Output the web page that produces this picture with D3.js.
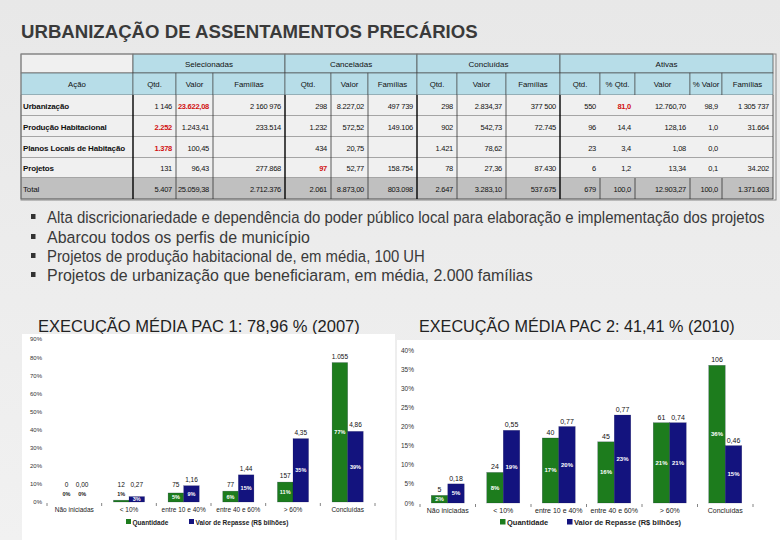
<!DOCTYPE html>
<html><head><meta charset="utf-8">
<script src="https://cdn.jsdelivr.net/npm/d3@7"></script>
<style>body{margin:0;background:#ebebeb;} svg{display:block}</style>
</head><body><svg id="c" width="780" height="540"></svg>
<script>
// ---------- DATA ----------
const title = "URBANIZAÇÃO DE ASSENTAMENTOS PRECÁRIOS";
const bullets = [
  "Alta discricionariedade e dependência do poder público local para elaboração e implementação dos projetos",
  "Abarcou todos os perfis de município",
  "Projetos de produção habitacional de, em média, 100 UH",
  "Projetos de urbanização que beneficiaram, em média, 2.000 famílias"
];
const groupHeaders = ["Selecionadas", "Canceladas", "Concluídas", "Ativas"];
const colHeaders = ["Ação","Qtd.","Valor","Famílias","Qtd.","Valor","Famílias","Qtd.","Valor","Famílias","Qtd.","% Qtd.","Valor","% Valor","Famílias"];
const rowLabels = ["Urbanização","Produção Habitacional","Planos Locais de Habitação","Projetos","Total"];
const rowUrbanizacao = ["1 146","23.622,08","2 160 976","298","8.227,02","497 739","298","2.834,37","377 500","550","81,0","12.760,70","98,9","1 305 737"];
const rowProducao    = ["2.252","1.243,41","233.514","1.232","572,52","149.106","902","542,73","72.745","96","14,4","128,16","1,0","31.664"];
const rowPlanos      = ["1.378","100,45","","434","20,75","","1.421","78,62","","23","3,4","1,08","0,0",""];
const rowProjetos    = ["131","96,43","277.868","97","52,77","158.754","78","27,36","87.430","6","1,2","13,34","0,1","34.202"];
const rowTotal       = ["5.407","25.059,38","2.712.376","2.061","8.873,00","803.098","2.647","3.283,10","537.675","679","100,0","12.903,27","100,0","1.371.603"];
const redCells = [[0,2],[1,1],[2,1],[3,4],[0,11]]; // [row, col]

const chartTitle1 = "EXECUÇÃO MÉDIA PAC 1:  78,96 % (2007)";
const chartTitle2 = "EXECUÇÃO MÉDIA PAC 2: 41,41 % (2010)";
const stages = ["Não iniciadas","< 10%","entre 10 e 40%","entre 40 e 60%","> 60%","Concluídas"];
const seriesNames = ["Quantidade","Valor de Repasse (R$ bilhões)"];
const pac1QtdLabels = ["0","12","75","77","157","1.055"];
const pac1QtdPct    = [0,1,5,6,11,77];
const pac1ValLabels = ["0,00","0,27","1,16","1,44","4,35","4,86"];
const pac1ValPct    = [0,3,9,15,35,39];
const pac2QtdLabels = ["5","24","40","45","61","106"];
const pac2QtdPct    = [2,8,17,16,21,36];
const pac2ValLabels = ["0,18","0,55","0,77","0,77","0,74","0,46"];
const pac2ValPct    = [5,19,20,23,21,15];

// ---------- DRAW ----------
const svg = d3.select("#c");
const FONT = "'Liberation Sans', Arial, sans-serif";
const defs = svg.append("defs");
const grad = defs.append("linearGradient").attr("id","bg").attr("x1",0).attr("y1",0).attr("x2",0).attr("y2",1);
grad.append("stop").attr("offset","0%").attr("stop-color","#e8e8e8");
grad.append("stop").attr("offset","100%").attr("stop-color","#f1f1f1");
svg.append("rect").attr("width",780).attr("height",540).attr("fill","url(#bg)");

function fit(sel, target){
  const w = sel.node().getComputedTextLength();
  const fs = parseFloat(sel.attr("font-size"));
  sel.attr("font-size", fs*target/w);
  return fs*target/w;
}
// horizontally condensed text via transform (narrow-font look)
function narrowText(x, y, str, fs, target, fill){
  const s = svg.append("text").attr("x",0).attr("y",0).attr("font-family",FONT)
    .attr("font-size",fs).attr("fill",fill).text(str);
  const w = s.node().getComputedTextLength();
  s.attr("transform",`translate(${x},${y}) scale(${target/w},1)`);
  return s;
}

// Title
const t = svg.append("text").attr("x",21).attr("y",38).attr("font-family",FONT)
  .attr("font-weight","bold").attr("font-size",17).attr("fill","#3a3a3a").text(title);
fit(t, 457);

// Table
const colEdges = [21,133,176,213,285,331,368,417,457,506,560,600,635,690,722,773];
const rowEdges = [54,73,95,116,137,158,178,199];
const groupSpans = [[1,4],[4,7],[7,10],[10,15]];
const rows = [rowUrbanizacao,rowProducao,rowPlanos,rowProjetos,rowTotal];
const tbl = svg.append("g");
const hdrFill = "#b7dde8";
tbl.append("rect").attr("x",colEdges[0]).attr("y",rowEdges[0]).attr("width",colEdges[1]-colEdges[0]).attr("height",rowEdges[1]-rowEdges[0])
  .attr("fill","#f0f0f0").attr("stroke","#555").attr("stroke-width",0.7);
groupSpans.forEach((s,i)=>{
  const x0=colEdges[s[0]], x1=colEdges[s[1]];
  tbl.append("rect").attr("x",x0).attr("y",rowEdges[0]).attr("width",x1-x0).attr("height",rowEdges[1]-rowEdges[0])
    .attr("fill",hdrFill).attr("stroke","#444").attr("stroke-width",0.7);
  tbl.append("text").attr("x",(x0+x1)/2).attr("y",rowEdges[0]+12.5).attr("text-anchor","middle")
    .attr("font-family",FONT).attr("font-size",8).attr("fill","#111").text(groupHeaders[i]);
});
colHeaders.forEach((h,i)=>{
  const x0=colEdges[i], x1=colEdges[i+1];
  tbl.append("rect").attr("x",x0).attr("y",rowEdges[1]).attr("width",x1-x0).attr("height",rowEdges[2]-rowEdges[1])
    .attr("fill",hdrFill).attr("stroke","#444").attr("stroke-width",0.6);
  tbl.append("text").attr("x",(x0+x1)/2).attr("y",rowEdges[1]+14).attr("text-anchor","middle")
    .attr("font-family",FONT).attr("font-size",7.8).attr("fill","#111").text(h);
});
rows.forEach((r,ri)=>{
  const y0=rowEdges[ri+2], y1=rowEdges[ri+3];
  const isTotal = ri===rows.length-1;
  tbl.append("rect").attr("x",colEdges[0]).attr("y",y0).attr("width",colEdges[15]-colEdges[0]).attr("height",y1-y0)
    .attr("fill", isTotal ? "#c0c0c0" : "#f0f0f0");
  tbl.append("line").attr("x1",colEdges[0]).attr("x2",colEdges[15]).attr("y1",y1).attr("y2",y1)
    .attr("stroke", "#333").attr("stroke-width", 0.8);
  tbl.append("text").attr("x",colEdges[0]+2).attr("y",(y0+y1)/2+3).attr("font-family",FONT)
    .attr("font-size",8).attr("font-weight", isTotal ? "normal" : "bold").attr("letter-spacing",-0.15)
    .attr("fill","#111").text(rowLabels[ri]);
  r.forEach((v,ci)=>{
    const c = ci+1;
    const red = redCells.some(d=>d[0]===ri && d[1]===c);
    tbl.append("text").attr("x",colEdges[c+1]-4).attr("y",(y0+y1)/2+3).attr("text-anchor","end")
      .attr("font-family",FONT).attr("font-size",7.5).attr("letter-spacing",-0.25).attr("font-weight", red ? "bold":"normal")
      .attr("fill", red ? "#d01010" : "#111").text(v);
  });
  colEdges.forEach((x,i)=>{
    const isGroup = [1,4,7,10].includes(i);
    if (i>10 && i<15 && !isTotal) return;
    tbl.append("line").attr("x1",x).attr("x2",x).attr("y1",y0).attr("y2",y1)
      .attr("stroke", isGroup ? "#000" : "#333").attr("stroke-width", isGroup ? 1.4 : 0.8);
  });
});
tbl.append("rect").attr("x",colEdges[0]).attr("y",rowEdges[0]).attr("width",colEdges[15]-colEdges[0]+3).attr("height",rowEdges[7]-rowEdges[0]+1)
  .attr("fill","none").attr("stroke","#888").attr("stroke-width",1);

// Bullets
const bulletY = [217,237,256,275];
const bulletW = [718,263,378,486];
bullets.forEach((b,i)=>{
  svg.append("rect").attr("x",31).attr("y",bulletY[i]-3).attr("width",4.5).attr("height",5).attr("fill","#333");
  narrowText(47, bulletY[i]+6, b, 16.5, bulletW[i], "#3a3a3a");
});

// Chart titles
narrowText(38, 332, chartTitle1, 16.5, 322, "#222");
narrowText(419, 332, chartTitle2, 16.5, 316, "#222");

const GREEN = "#1d7c1d", BLUE = "#13137e";

function drawChart(cfg){
  const g = svg.append("g");
  g.append("rect").attr("x",cfg.bg[0]).attr("y",cfg.bg[1]).attr("width",cfg.bg[2]).attr("height",cfg.bg[3]).attr("fill","#fff");
  const x0 = d3.scaleBand().domain(stages).range(cfg.xRange).paddingInner(cfg.pi).paddingOuter(cfg.po);
  const x1 = d3.scaleBand().domain([0,1]).range([0,x0.bandwidth()]);
  const y = d3.scaleLinear().domain([0,cfg.max]).range([cfg.y0, cfg.yTop]);
  const ax = g.append("g").attr("transform",`translate(${cfg.axisX},0)`)
    .call(d3.axisLeft(y).tickValues(d3.range(0,cfg.max+1,cfg.step)).tickFormat(d=>d+"%").tickSize(0).tickPadding(3));
  ax.select(".domain").remove();
  ax.selectAll("text").attr("font-family",FONT).attr("font-size",cfg.axFs).attr("fill","#333");
  d3.range(stages.length+1).forEach(i=>{
    const x = cfg.xRange[0] + i*x0.step();
    g.append("line").attr("x1",x).attr("x2",x).attr("y1",cfg.y0+1).attr("y2",cfg.y0+4).attr("stroke","#666").attr("stroke-width",0.8);
  });
  stages.forEach(s=>{
    g.append("text").attr("x",x0(s)+x0.bandwidth()/2).attr("y",cfg.y0+10).attr("text-anchor","middle")
      .attr("font-family",FONT).attr("font-size",cfg.catFs).attr("fill","#222").text(s);
  });
  const series = [
    {pct:cfg.qPct, lab:cfg.qLab, color:GREEN},
    {pct:cfg.vPct, lab:cfg.vLab, color:BLUE}
  ];
  series.forEach((se,si)=>{
    stages.forEach((s,i)=>{
      const x = x0(s)+x1(si), w = x1.bandwidth();
      const top = y(se.pct[i]);
      const h = cfg.y0 - top;
      if (h>0) g.append("rect").attr("x",x).attr("y",top).attr("width",w).attr("height",h).attr("fill",se.color)
        .attr("stroke","#0b0b40").attr("stroke-opacity",0.35).attr("stroke-width",0.5);
      const vy = cfg.capValue ? Math.min(top-4, cfg.y0-15) : top-3;
      g.append("text").attr("x",x+w/2).attr("y",vy).attr("text-anchor","middle").attr("font-family",FONT)
        .attr("font-size",cfg.valFs).attr("fill","#111").text(se.lab[i]);
      const inside = cfg.capValue ? se.pct[i]>=3 : true;
      const py = inside ? (top+cfg.y0)/2+2 : Math.min(top-2, cfg.y0-6);
      g.append("text").attr("x",x+w/2).attr("y",py).attr("text-anchor","middle").attr("font-family",FONT)
        .attr("font-size",cfg.pctFs).attr("font-weight","bold").attr("fill", inside ? "#fff" : "#222").text(se.pct[i]+"%");
    });
  });
  cfg.legend.forEach((lx,i)=>{
    g.append("rect").attr("x",lx).attr("y",cfg.legY-5).attr("width",cfg.legSq).attr("height",cfg.legSq).attr("fill",i?BLUE:GREEN);
    g.append("text").attr("x",lx+cfg.legSq+1.5).attr("y",cfg.legY+1).attr("font-family",FONT).attr("font-size",cfg.legFs)
      .attr("font-weight","bold").attr("fill","#222").text(seriesNames[i]);
  });
}

drawChart({bg:[22,334,373,206], xRange:[47,375], pi:0.43, po:0.215, y0:502, yTop:339, max:90, step:10, axisX:45,
  axFs:6, catFs:6.5, valFs:6.5, pctFs:5.5, qPct:pac1QtdPct, qLab:pac1QtdLabels, vPct:pac1ValPct, vLab:pac1ValLabels,
  capValue:true, legend:[126,189], legY:524, legSq:5, legFs:6.5});
drawChart({bg:[397,340,383,200], xRange:[420,753], pi:0.405, po:0.2025, y0:503, yTop:350, max:40, step:5, axisX:417,
  axFs:6.5, catFs:7, valFs:7, pctFs:6, qPct:pac2QtdPct, qLab:pac2QtdLabels, vPct:pac2ValPct, vLab:pac2ValLabels,
  capValue:false, legend:[500,567], legY:524, legSq:5.5, legFs:7.5});
</script></body></html>
